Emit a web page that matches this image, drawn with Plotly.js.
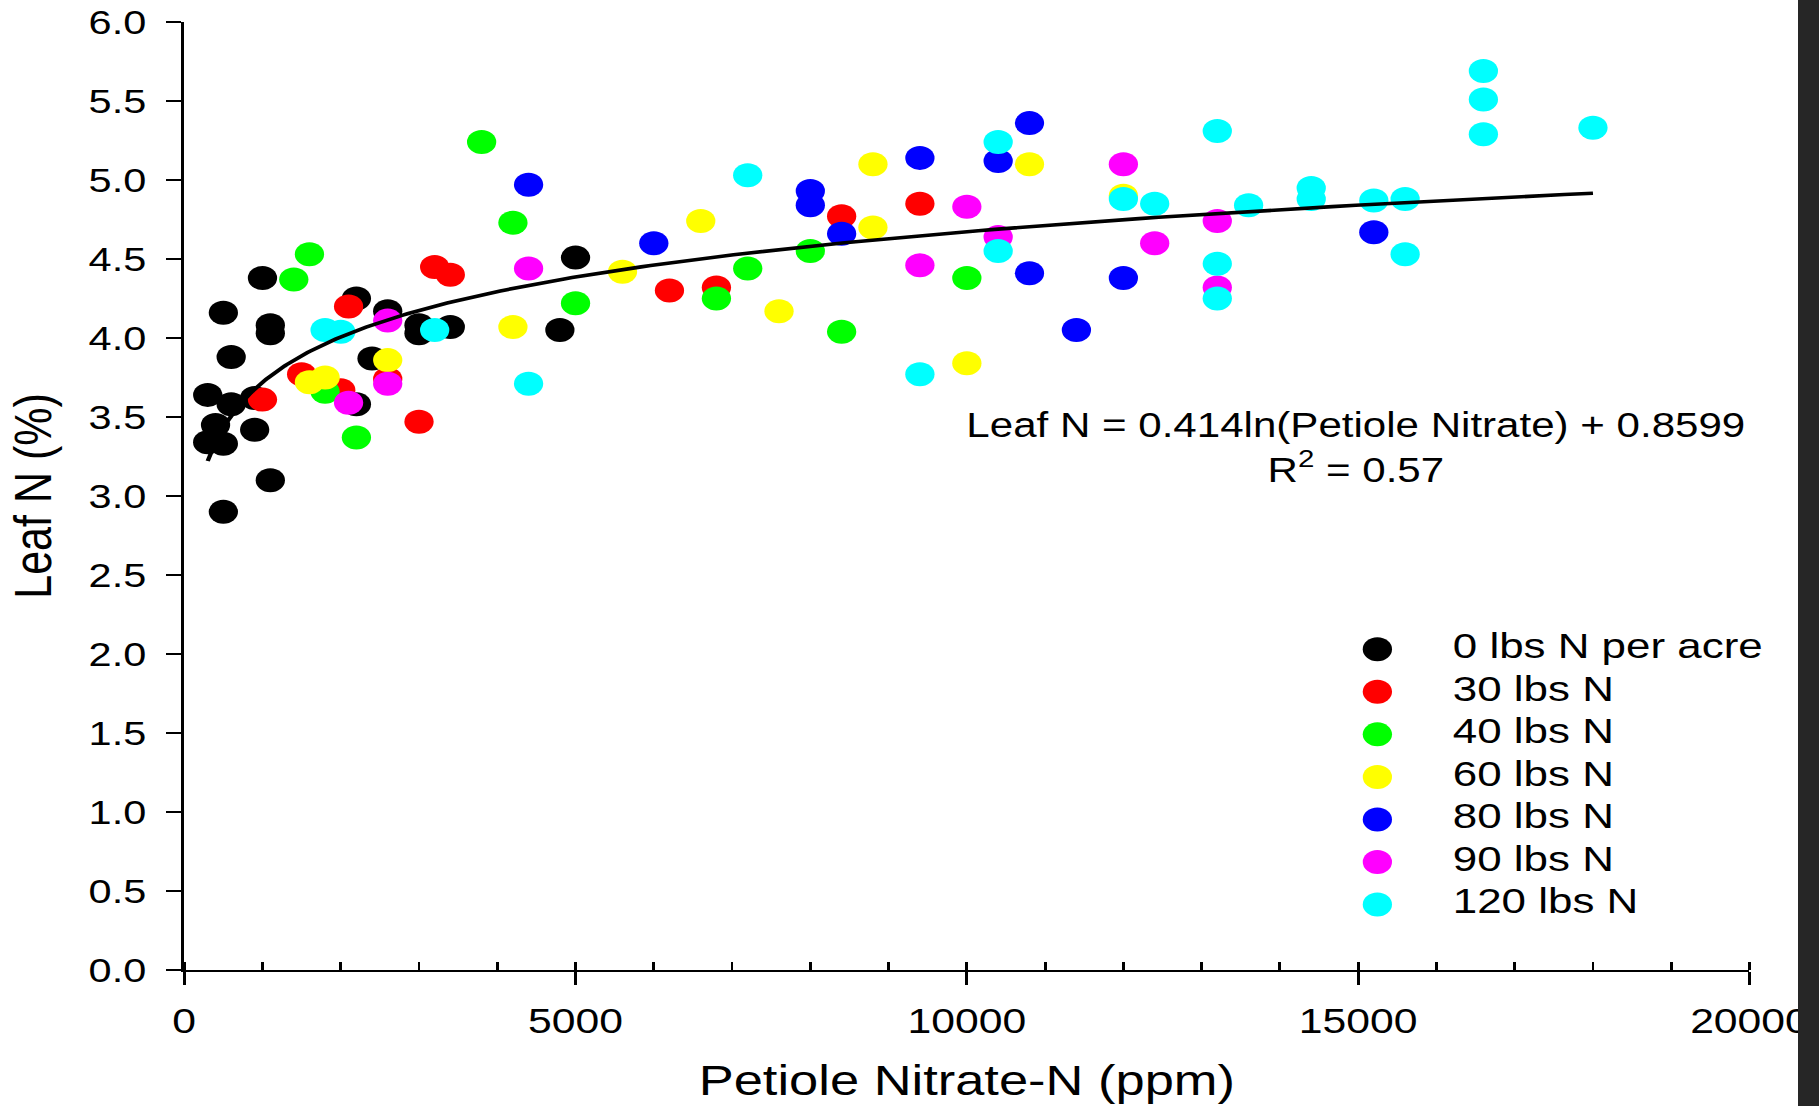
<!DOCTYPE html>
<html><head><meta charset="utf-8">
<script src="https://cdn.plot.ly/plotly-3.0.1.min.js"></script>
<style>
html,body{margin:0;padding:0;background:#fff;overflow:hidden;}
#wrap{position:absolute;left:0;top:0;width:1491px;height:1106px;transform:scaleX(1.22);transform-origin:0 0;}
#edge{position:absolute;left:1798px;top:0;width:21px;height:1106px;background:#262626;}
</style></head><body>
<div id="wrap"><div id="chart" style="width:1491px;height:1106px"></div></div>
<div id="edge"></div>
<script>
// ---- data ----
const seriesNames = ['0 lbs N per acre','30 lbs N','40 lbs N','60 lbs N','80 lbs N','90 lbs N','120 lbs N'];
const seriesColors = ['#000000','#ff0000','#00ff00','#ffff00','#0000ff','#ff00ff','#00ffff'];

const x0 = [300,500,600,1000,1100,1100,600,400,300,500,900,900,1100,500,2200,2200,2600,2400,3000,3000,3400,4800,5000];
const y0 = [3.64,4.16,3.88,4.38,4.08,4.03,3.58,3.45,3.34,3.33,3.42,3.62,3.10,2.90,4.25,3.58,4.17,3.87,4.08,4.03,4.07,4.05,4.51];

const x30 = [1000,2100,1500,2000,2600,3000,3200,3400,6200,6800,8400,9400];
const y30 = [3.61,4.20,3.77,3.67,3.74,3.47,4.45,4.40,4.30,4.32,4.77,4.85];

const x40 = [3800,4200,1600,1400,1800,2200,5000,6800,7200,8000,8400,10000];
const y40 = [5.24,4.73,4.53,4.37,3.66,3.37,4.22,4.25,4.44,4.55,4.04,4.38];

const x60 = [1600,1800,2600,4200,5600,6600,7600,8800,8800,10000,10800,12000];
const y60 = [3.72,3.75,3.86,4.07,4.42,4.74,4.17,4.70,5.10,3.84,5.10,4.90];

const x80 = [4400,6000,8000,8000,8400,9400,10400,10800,10800,11400,12000,15200];
const y80 = [4.97,4.60,4.93,4.84,4.66,5.14,5.12,5.36,4.41,4.05,4.38,4.67];

const x90 = [4400,2100,2600,2600,9400,10000,10400,12000,12400,13200,13200];
const y90 = [4.44,3.59,3.71,4.11,4.46,4.83,4.64,5.10,4.60,4.74,4.32];

const x120 = [1800,2000,3200,4400,7200,9400,10400,10400,12000,12400,13200,13200,13200,13600,14400,14400,15200,15600,15600,16600,16600,16600,18000];
const y120 = [4.05,4.04,4.05,3.71,5.03,3.77,5.24,4.55,4.88,4.85,5.31,4.47,4.25,4.84,4.95,4.88,4.87,4.88,4.53,5.69,5.51,5.29,5.33];

// fitted curve shown on the chart: Leaf N = 0.414 ln(Petiole Nitrate) + 0.8599
const fitA = 0.414, fitB = 0.8599, fitStart = 300, fitEnd = 18000;
const equationText = 'Leaf N = 0.414ln(Petiole Nitrate) + 0.8599';
const r2Text = 'R<sup>2</sup> = 0.57';

const xTitle = 'Petiole Nitrate-N (ppm)';
const yTitle = 'Leaf N (%)';

// ---- build ----
const FONT = '"Liberation Sans", Arial, Helvetica, sans-serif';
const xs = [x0,x30,x40,x60,x80,x90,x120];
const ys = [y0,y30,y40,y60,y80,y90,y120];

const traces = [];
xs.forEach((xv,i)=>{
  traces.push({type:'scatter', mode:'markers', name:seriesNames[i], x:xv, y:ys[i],
    marker:{size:24, color:seriesColors[i], line:{width:0}}, hoverinfo:'x+y+name'});
});

const fx = [], fy = [];
for(let k=0;k<=200;k++){
  const xv = fitStart * Math.pow(fitEnd/fitStart, k/200);
  fx.push(xv); fy.push(fitA*Math.log(xv)+fitB);
}
traces.push({type:'scatter', mode:'lines', name:'fit', x:fx, y:fy, line:{color:'#000', width:3.6}, hoverinfo:'skip'});

// custom legend (large markers) on its own hidden axes
const legIdx = seriesNames.map((_,i)=>i);
traces.push({type:'scatter', mode:'markers', xaxis:'x2', yaxis:'y2', x:legIdx.map(()=>0), y:legIdx,
  marker:{size:24, color:seriesColors, line:{width:0}}, hoverinfo:'skip', cliponaxis:false});
traces.push({type:'scatter', mode:'text', xaxis:'x2', yaxis:'y2', x:legIdx.map(()=>1), y:legIdx,
  text:seriesNames, textposition:'middle right', textfont:{size:36, color:'#000', family:FONT},
  hoverinfo:'skip', cliponaxis:false});

const axCommon = {showline:true, linewidth:2.3, linecolor:'#000', showgrid:false, zeroline:false,
  ticks:'outside', tickwidth:2.3, tickcolor:'#000', automargin:false};

const layout = {
  width:1491, height:1106,
  margin:{l:151, r:57, t:22, b:136, pad:0},
  paper_bgcolor:'#fff', plot_bgcolor:'rgba(0,0,0,0)',
  showlegend:false,
  font:{family:FONT, color:'#000'},
  xaxis:Object.assign({}, axCommon, {range:[0,20000], tick0:0, dtick:5000, tickformat:'d', ticklen:12.6,
    tickfont:{size:35, family:FONT}, ticklabelstandoff:6,
    minor:{ticks:'inside', ticklen:8, dtick:1000, tickwidth:2.3, tickcolor:'#000', showgrid:false},
    title:{text:xTitle, font:{size:43, family:FONT}, standoff:26}}),
  yaxis:Object.assign({}, axCommon, {range:[0,6], tick0:0, dtick:0.5, tickformat:'.1f', ticklen:13,
    tickfont:{size:34, family:FONT}, ticklabelstandoff:9,
    title:{text:yTitle, font:{size:43, family:FONT}, standoff:17}}),
  xaxis2:{domain:[0.75,1], range:[-0.2549,4.935], visible:false, anchor:'y2', fixedrange:true},
  yaxis2:{domain:[0.0467,0.3607], range:[6.5,-0.5], visible:false, anchor:'x2', fixedrange:true},
  annotations:[{xref:'paper', yref:'paper', x:0.7487, y:0.5512, xanchor:'center', yanchor:'middle',
    text:equationText+'<br>'+r2Text, showarrow:false, align:'center', font:{size:34.5, family:FONT, color:'#000'}}]
};

Plotly.newPlot('chart', traces, layout, {displayModeBar:false, staticPlot:true});
</script>
</body></html>
